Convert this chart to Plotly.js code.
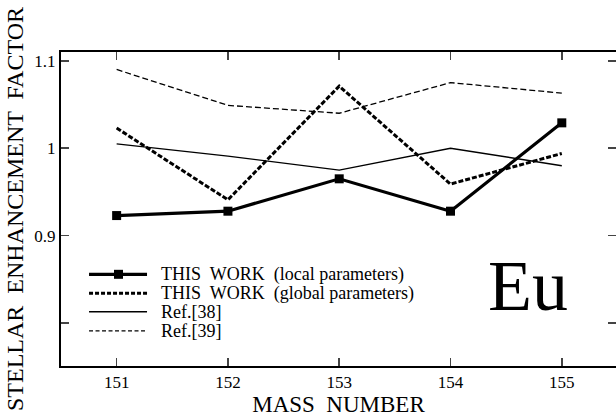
<!DOCTYPE html>
<html><head><meta charset="utf-8">
<script src="https://cdn.plot.ly/plotly-3.0.1.min.js"></script>
<style>body{margin:0;background:#fff}#c{width:616px;height:418px}</style>
</head><body><div id="c"></div>
<script>
const massNumbers = [151, 152, 153, 154, 155];
const localParams = [0.923, 0.928, 0.965, 0.928, 1.029];
const globalParams = [1.023, 0.941, 1.071, 0.959, 0.994];
const ref38 = [1.005, 0.991, 0.975, 1.000, 0.980];
const ref39 = [1.090, 1.049, 1.040, 1.075, 1.063];
const seriesNames = ['THIS  WORK  (local parameters)', 'THIS  WORK  (global parameters)', 'Ref.[38]', 'Ref.[39]'];
const yTickVals = [0.8, 0.9, 1.0, 1.1];
const yTickText = ['', '0.9', '1', '1.1'];

const serif = '"Liberation Serif", "Times New Roman", serif';
const styles = [
  {line: {color: '#000', width: 3.2}, marker: {symbol: 'square', size: 9, color: '#000'}, mode: 'lines+markers'},
  {line: {color: '#000', width: 3, dash: '5px,2px'}, mode: 'lines'},
  {line: {color: '#000', width: 1.4}, mode: 'lines'},
  {line: {color: '#000', width: 1.3, dash: '6px,3px'}, mode: 'lines'}
];
const seriesValues = [localParams, globalParams, ref38, ref39];
const traces = seriesValues.map((vals, i) => Object.assign({x: massNumbers, y: vals, name: seriesNames[i], showlegend: false}, styles[i]));

// hand-made legend (compact row spacing like the reference)
const legRows = [0.292, 0.232, 0.173, 0.112];
const legendDash = ['solid', '4px,2px', 'solid', '4px,2.5px'];
const legendWidth = [3.2, 3, 1.4, 1.3];
const shapes = [];
const annotations = [];
legRows.forEach((yy, i) => {
  shapes.push({type: 'line', xref: 'paper', yref: 'paper', x0: 0.0505, x1: 0.155, y0: yy, y1: yy,
               line: {color: '#000', width: legendWidth[i], dash: legendDash[i]}});
  annotations.push({text: seriesNames[i], xref: 'paper', yref: 'paper', x: 0.176, y: yy, xanchor: 'left', yanchor: 'middle',
                    showarrow: false, font: {family: serif, size: 18, color: '#000'}});
});
shapes.push({type: 'rect', xref: 'paper', yref: 'paper', xsizemode: 'pixel', ysizemode: 'pixel',
             xanchor: 0.1036, yanchor: legRows[0], x0: -4.5, x1: 4.5, y0: -4.5, y1: 4.5,
             fillcolor: '#000', line: {width: 0}});
annotations.push({text: 'Eu', xref: 'paper', yref: 'paper', x: 0.841, y: 0.255, xanchor: 'center', yanchor: 'middle',
                  showarrow: false, font: {family: serif, size: 72, color: '#000'}});

const layout = {
  width: 616, height: 418,
  margin: {l: 61, r: 0, t: 52, b: 52},
  paper_bgcolor: '#fff', plot_bgcolor: '#fff',
  font: {family: serif, color: '#000', size: 17},
  showlegend: false,
  xaxis: {range: [150.5, 155.487], tickvals: massNumbers, ticks: 'inside', ticklen: 8, tickwidth: 1.5,
          showline: true, linecolor: '#000', linewidth: 2, mirror: 'ticks', showgrid: false, zeroline: false,
          tickfont: {family: serif, size: 17},
          title: {text: 'MASS  NUMBER', font: {family: serif, size: 23}, standoff: 3}},
  yaxis: {range: [0.751, 1.110], tickvals: yTickVals, ticktext: yTickText, ticks: 'inside', ticklen: 8, tickwidth: 1.5,
          showline: true, linecolor: '#000', linewidth: 2, mirror: 'ticks', showgrid: false, zeroline: false,
          tickfont: {family: serif, size: 17},
          title: {text: 'STELLAR  ENHANCEMENT  FACTOR', font: {family: serif, size: 24}, standoff: 4}},
  shapes: shapes,
  annotations: annotations
};
Plotly.newPlot('c', traces, layout, {displayModeBar: false, staticPlot: true});
</script></body></html>
